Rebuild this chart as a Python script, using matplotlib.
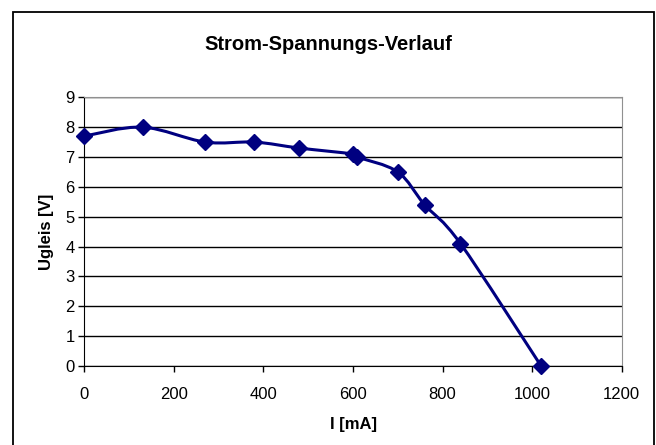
import numpy as np
import matplotlib.pyplot as plt
from matplotlib.path import Path
from matplotlib.patches import PathPatch, Rectangle

plt.rcParams['font.family'] = ['Liberation Sans', 'DejaVu Sans']

# DATEN
strom_mA = [0, 130, 270, 380, 480, 600, 610, 700, 760, 840, 1020]
spannung_V = [7.7, 8.0, 7.5, 7.5, 7.3, 7.1, 7.0, 6.5, 5.4, 4.1, 0.0]
x_ticks = [0, 200, 400, 600, 800, 1000, 1200]
y_ticks = list(range(0, 10))

titel = 'Strom-Spannungs-Verlauf'
x_label = 'I [mA]'
y_label = 'Ugleis [V]'
farbe = '#000080'

fig = plt.figure(figsize=(6.56, 4.45), dpi=100)
ax = fig.add_axes([84.3 / 656, 1 - 366 / 445, (621.7 - 84.3) / 656, (366 - 97.3) / 445])

# aeusserer Rahmen (wie Excel Diagrammbereich)
fig.patches.append(Rectangle((13 / 656, -0.05), (654 - 13) / 656, 1.05 - 12.5 / 445,
                             transform=fig.transFigure, fill=False,
                             edgecolor='black', linewidth=1.3))

# geglaettete Linie (Bezier wie Excel)
p = np.column_stack([strom_mA, spannung_V]).astype(float)
verts = [tuple(p[0])]
codes = [Path.MOVETO]
n = len(p)
for i in range(n - 1):
    p0 = p[i - 1] if i > 0 else p[i]
    p3 = p[i + 2] if i + 2 < n else p[i + 1]
    c1 = p[i] + (p[i + 1] - p0) / 6
    c2 = p[i + 1] - (p3 - p[i]) / 6
    verts += [tuple(c1), tuple(c2), tuple(p[i + 1])]
    codes += [Path.CURVE4] * 3
ax.add_patch(PathPatch(Path(verts, codes), facecolor='none', edgecolor=farbe,
                       linewidth=2.2, zorder=3, clip_on=False))
ax.plot(strom_mA, spannung_V, linestyle='none', marker='D', markersize=8.5,
        color=farbe, zorder=4, clip_on=False)

ax.set_xlim(0, 1200)
ax.set_ylim(0, 9)
ax.set_xticks(x_ticks)
ax.set_yticks(y_ticks)
ax.tick_params(labelsize=12, direction='out', length=4, width=1, pad=11)
ax.tick_params(axis='y', pad=3)
ax.grid(axis='y', color='black', linewidth=1)
ax.set_axisbelow(True)
for s in ['top', 'right']:
    ax.spines[s].set_color('#909090')
for s in ['left', 'bottom']:
    ax.spines[s].set_color('black')
ax.spines['left'].set_zorder(2.5)

ax.set_xlabel(x_label, fontsize=12, fontweight='bold', labelpad=11)
ax.set_ylabel(y_label, fontsize=12, fontweight='bold', labelpad=8)
fig.text(0.5, 1 - 45 / 445, titel, ha='center', va='center',
         fontsize=14.5, fontweight='bold')

fig.savefig('out.png', dpi=100)
